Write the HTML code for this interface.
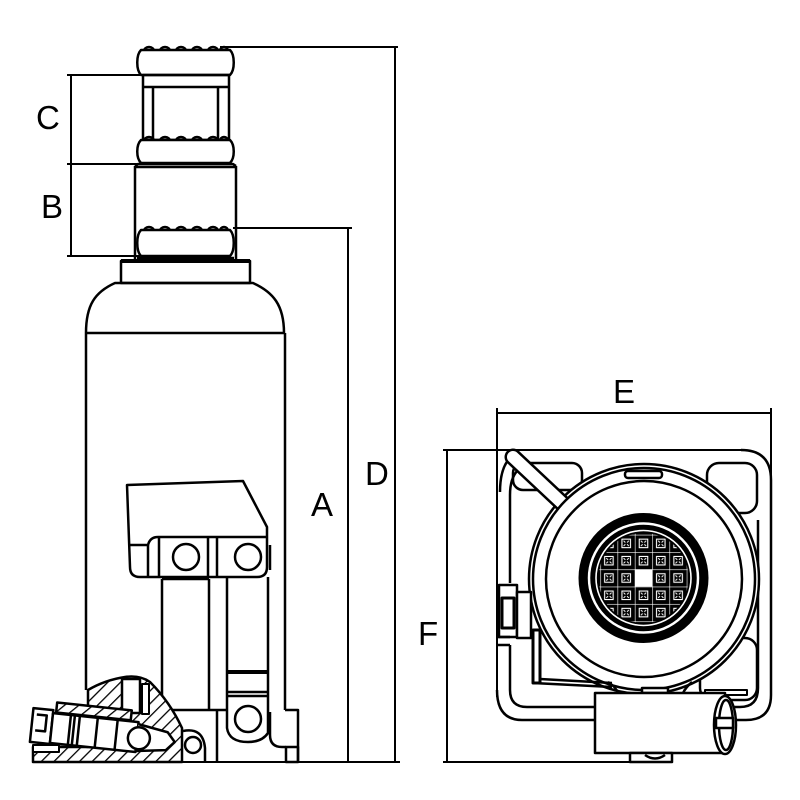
<!DOCTYPE html>
<html><head><meta charset="utf-8"><style>
html,body{margin:0;padding:0;background:#fff;}
svg{display:block;}
text{font-family:"Liberation Sans",Arial,sans-serif;font-size:33px;fill:#000;}
</style></head><body>
<svg width="800" height="800" viewBox="0 0 800 800" xmlns="http://www.w3.org/2000/svg">
<defs>
<pattern id="h" patternUnits="userSpaceOnUse" width="9" height="9" patternTransform="rotate(45)">
<rect width="9" height="9" fill="#fff"/>
<line x1="0" y1="0" x2="0" y2="9" stroke="#000" stroke-width="2.6"/>
</pattern>
<pattern id="g" patternUnits="userSpaceOnUse" x="600.25" y="534.75" width="17.3" height="17.3">
<rect width="17.3" height="17.3" fill="#000"/>
<path d="M0,0 H17.3 M0,0 V17.3" stroke="#fff" stroke-width="1.2"/>
<rect x="4.4" y="4.4" width="8.5" height="8.5" fill="none" stroke="#fff" stroke-width="1.1"/>
<path d="M6,6 L7.8,7.8 M11.3,6 L9.5,7.8 M6,11.3 L7.8,9.5 M11.3,11.3 L9.5,9.5" stroke="#fff" stroke-width="1"/>
</pattern>
<clipPath id="sc"><circle cx="643.5" cy="578" r="45"/></clipPath>
</defs>

<!-- labels -->
<text x="36" y="129">C</text>
<text x="41" y="218">B</text>
<text x="311" y="516">A</text>
<text x="365" y="485">D</text>
<text x="613" y="403">E</text>
<text x="418" y="645">F</text>

<!-- dimension lines -->
<g fill="none" stroke="#000" stroke-width="2">
<path d="M220,47 L398,47 M395,47 L395,762"/>
<path d="M233,228 L352,228 M348,228 L348,762"/>
<path d="M67,75 L140,75 M71,75 L71,256 M67,164 L138,164 M67,256 L140,256"/>
<path d="M33,762 L400,762"/>
<path d="M497,408 L497,697 M497,413 L771,413 M771,408 L771,480"/>
<path d="M443,450 L741,450 M447,450 L447,762 M443,762 L672,762"/>
</g>

<!-- LEFT VIEW -->
<g fill="none" stroke="#000" stroke-width="2.5" stroke-linejoin="round">
<!-- saddle top ring -->
<path d="M141,50 L230,50 C235,55 235,70 230,75 L141,75 C136,70 136,55 141,50 Z" fill="#fff"/>
<path d="M144,51 a5,4 0 0 1 10,0 M160,51 a5,4 0 0 1 10,0 M176,51 a5,4 0 0 1 10,0 M192,51 a5,4 0 0 1 10,0 M208,51 a5,4 0 0 1 10,0 M220,51 a4,4 0 0 1 8,0"/>
<!-- extension -->
<rect x="143" y="75" width="86" height="65"/>
<path d="M143,87 L229,87 M153,87 L153,139 M218,87 L218,139"/>
<!-- ring 2 -->
<path d="M141,140 L230,140 C235,145 235,158 230,163 L141,163 C136,158 136,145 141,140 Z" fill="#fff"/>
<path d="M144,141 a5,4 0 0 1 10,0 M160,141 a5,4 0 0 1 10,0 M176,141 a5,4 0 0 1 10,0 M192,141 a5,4 0 0 1 10,0 M208,141 a5,4 0 0 1 10,0 M220,141 a4,4 0 0 1 8,0"/>
<!-- ram -->
<path d="M135,166 L135,260 M236,166 L236,260 M135,166 L138,164 L233,164 L236,166 M135,167 L236,167"/>
<!-- ring 3 -->
<path d="M141,230 L230,230 C235,235 235,251 230,256 L141,256 C136,251 136,235 141,230 Z" fill="#fff"/>
<path d="M144,231 a5,4 0 0 1 10,0 M160,231 a5,4 0 0 1 10,0 M176,231 a5,4 0 0 1 10,0 M192,231 a5,4 0 0 1 10,0 M208,231 a5,4 0 0 1 10,0 M220,231 a4,4 0 0 1 8,0"/>
<path d="M137,258 L234,258"/>
<!-- collar -->
<rect x="121" y="261" width="129" height="22"/>
<path d="M121,261 L250,261" stroke-width="4"/>
<!-- dome & body -->
<path d="M86,333 C86,305 95,292 115,283 L253,283 C273,292 284,305 284,333"/>
<path d="M86,333 L285,333"/>
<path d="M86,333 L86,690 M285,333 L285,710"/>

<!-- pump block -->
<path d="M127,485 L243,481 L267,527 L267,567 Q267,577 257,577 L140,577 Q130,577 130,567 Z" fill="#fff"/>
<path d="M130,545 L148,545 Q150,537 158,537 L267,537"/>
<path d="M148,545 L148,577 M159,537 L159,577 M208,537 L208,577 M217,537 L217,577"/>
<circle cx="186" cy="557" r="13"/>
<circle cx="248" cy="557" r="13"/>
<path d="M270,545 L270,570"/>
<!-- plunger -->
<path d="M162,579 L162,710 M209,579 L209,710 M162,579 L209,579"/>
<!-- link -->
<path d="M227,577 L227,728 Q229,742 248,742 Q262,742 268,733 L268,577"/>
<path d="M227,672 L268,672" stroke-width="4"/>
<path d="M227,692 L268,692 M227,696 L268,696"/>
<circle cx="248" cy="719" r="13"/>
<path d="M270,712 L270,735 Q270,747 282,747 L286,747"/>
<path d="M285,710 L298,710 L298,762"/>
<rect x="286" y="747" width="12" height="15"/>
<path d="M162,710 L227,710 M217,710 L217,762"/>

<!-- hatched pump housing -->
<path d="M88,690 Q105,680 125,677 Q140,675 150,682 Q170,702 182,728 L182,762 L33,762 L33,747 L88,747 Z" fill="url(#h)"/>
<rect x="122" y="679" width="18" height="34" fill="#fff"/>
<rect x="142" y="684" width="7" height="30" fill="#fff" stroke-width="2"/>
<rect x="33" y="745" width="26" height="7" fill="#fff" stroke-width="2"/>
<g transform="rotate(6,32,722)">
<rect x="55" y="700" width="75" height="10" fill="url(#h)"/>
<rect x="32" y="708" width="20" height="34" fill="#fff"/>
<path d="M36,714 L46,714 L46,730 L36,730"/>
<rect x="52" y="711" width="86" height="30" fill="#fff"/>
<path d="M70,711 L70,741 M74,711 L74,741 M79,711 L79,741 M97,711 L97,741 M117,711 L117,741"/>
<path d="M138,713 L168,718 L176,727 L168,736 L138,740" fill="#fff"/>
<circle cx="140" cy="727" r="11" fill="#fff"/>
</g>
<circle cx="193" cy="745" r="8"/>
<path d="M183,731 Q203,727 205,748 L205,762"/>
</g>

<!-- RIGHT VIEW -->
<g fill="none" stroke="#000" stroke-width="2.5" stroke-linejoin="round">
<!-- base -->
<path d="M497,690 Q497,720 522,720 L595,720 M727,720 L746,720 Q771,720 771,695 L771,480 Q771,450 741,450"/>
<path d="M510,495 Q510,478 518,470 M500,492 Q500,466 512,456"/>
<path d="M510,495 L510,583 M510,645 L510,690 Q510,707 527,707 L595,707"/>
<path d="M758,520 L758,688 Q758,707 740,707 L727,707"/>
<!-- pockets -->
<rect x="513" y="463" width="69" height="27" rx="10"/>
<rect x="707" y="463" width="50" height="50" rx="12"/>
<rect x="700" y="638" width="57" height="62" rx="12"/>
<!-- outer ring -->
<circle cx="644" cy="579" r="115" fill="#fff"/>
<!-- handle bar -->
<line x1="513" y1="457" x2="578" y2="518" stroke-width="17" stroke-linecap="round"/>
<line x1="513" y1="457" x2="578" y2="518" stroke="#fff" stroke-width="12" stroke-linecap="round"/>
<circle cx="644" cy="579" r="111" fill="#fff"/>
<circle cx="644" cy="579" r="98"/>
<rect x="625" y="471" width="37" height="7" rx="3" fill="#fff"/>
</g>
<!-- saddle top -->
<circle cx="643.5" cy="578" r="65" fill="#000"/>
<circle cx="643.5" cy="578" r="54.5" fill="none" stroke="#fff" stroke-width="2.5"/>
<circle cx="643.5" cy="578" r="47.5" fill="none" stroke="#fff" stroke-width="1.6"/>
<circle cx="643.5" cy="578" r="45" fill="url(#g)"/>
<rect x="634.85" y="569.35" width="17.3" height="17.3" fill="#fff"/>

<g fill="none" stroke="#000" stroke-width="2.5" stroke-linejoin="round">
<!-- valve fitting -->
<rect x="499" y="585" width="18" height="52" fill="#fff"/>
<rect x="502" y="598" width="12" height="30" stroke-width="3"/>
<path d="M497,637 L510,637 M497,645 L510,645"/>
<rect x="517" y="592" width="14" height="46" fill="#fff"/>
<rect x="533" y="630" width="7" height="53" stroke-width="3"/>
<path d="M533,683 L612,687 M540,679 L612,683"/>
<!-- legs -->
<path d="M608,682 Q616,687 618,693 M683,693 Q686,687 692,682"/>
<!-- tabs -->
<rect x="642" y="688" width="26" height="5" fill="#fff"/>
<rect x="705" y="690" width="42" height="5" fill="#fff" stroke-width="2"/>
<!-- housing -->
<rect x="595" y="693" width="130" height="60" fill="#fff"/>
<ellipse cx="725" cy="725" rx="11" ry="29" fill="#fff"/>
<ellipse cx="726" cy="725" rx="7" ry="25"/>
<rect x="716" y="718" width="17" height="10" fill="#fff"/>
<rect x="630" y="753" width="42" height="9" fill="#fff"/>
<path d="M645,755 Q655,762 665,755"/>
</g>
</svg>
</body></html>
